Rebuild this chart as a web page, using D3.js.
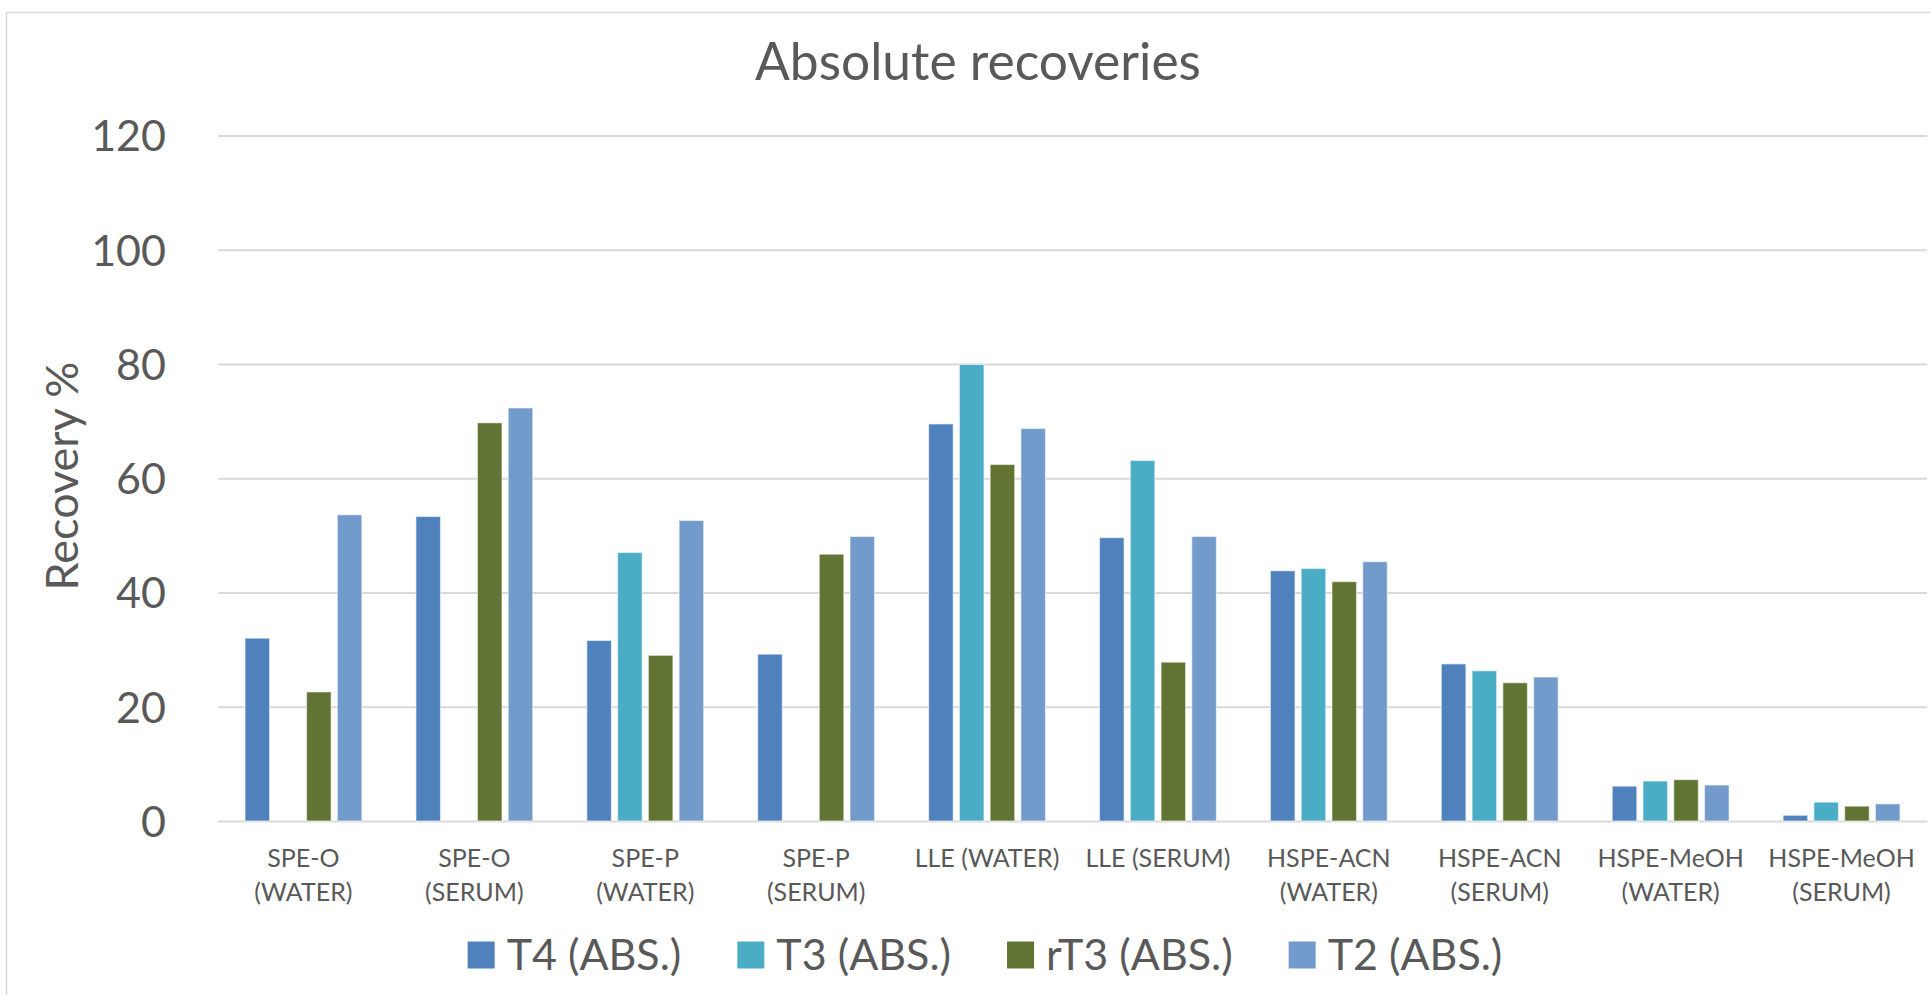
<!DOCTYPE html>
<html>
<head>
<meta charset="utf-8">
<script src="https://cdn.jsdelivr.net/npm/d3@7"></script>
<style>
  html, body { margin: 0; padding: 0; background: #fff; }
  svg { display: block; }
  text { font-family: Lato, "Open Sans", sans-serif; fill: #595959; }
</style>
</head>
<body>
<svg id="chart" width="1930" height="995"></svg>
<script>
// ---- data ----
const categories = ["SPE-O (WATER)", "SPE-O (SERUM)", "SPE-P (WATER)", "SPE-P (SERUM)", "LLE (WATER)",
                    "LLE (SERUM)", "HSPE-ACN (WATER)", "HSPE-ACN (SERUM)", "HSPE-MeOH (WATER)", "HSPE-MeOH (SERUM)"];
const seriesNames = ["T4 (ABS.)", "T3 (ABS.)", "rT3 (ABS.)", "T2 (ABS.)"];
const t4Values  = [32.0, 53.3, 31.6, 29.2, 69.5, 49.6, 43.8, 27.5, 6.1, 1.0];
const t3Values  = [null, null, 47.0, null, 79.9, 63.1, 44.2, 26.3, 7.0, 3.3];
const rt3Values = [22.6, 69.7, 29.0, 46.7, 62.4, 27.8, 41.9, 24.2, 7.25, 2.6];
const t2Values  = [53.6, 72.3, 52.6, 49.8, 68.7, 49.8, 45.4, 25.2, 6.3, 3.0];
const yTicks = [0, 20, 40, 60, 80, 100, 120];
const titleText = "Absolute recoveries";
const yTitle = "Recovery %";
const colors = ["#4F81BD", "#4BACC6", "#627433", "#729ACA"];

const seriesValues = [t4Values, t3Values, rt3Values, t2Values];
const rows = categories.map((c, i) => ({
  cat: c,
  vals: seriesNames.map((s, k) => ({ s, k, v: seriesValues[k][i] }))
}));

// ---- layout ----
const svg = d3.select("#chart");
const plot = { left: 218, right: 1927, top: 135.4, bottom: 821 };

// chart border
svg.append("rect").attr("x", 6.5).attr("y", 12.5).attr("width", 1960).attr("height", 1000)
  .attr("fill", "none").attr("stroke", "#D9D9D9").attr("stroke-width", 1.5);

const x0 = d3.scaleBand().domain(categories).range([plot.left, plot.right])
  .paddingInner(0.316).paddingOuter(0.158);
const x1 = d3.scaleBand().domain(seriesNames).range([0, x0.bandwidth()]).paddingInner(0.2).paddingOuter(0);
const y = d3.scaleLinear().domain([0, 120]).range([plot.bottom, plot.top]);

// gridlines
const grid = svg.append("g").attr("transform", `translate(${plot.left},0)`)
  .call(d3.axisLeft(y).tickValues(yTicks).tickSize(-(plot.right - plot.left)).tickFormat(""));
grid.select(".domain").remove();
grid.selectAll("line").attr("stroke", "#D9D9D9").attr("stroke-width", 2);

// y tick labels
const yAxis = svg.append("g").attr("transform", `translate(166,0)`)
  .call(d3.axisLeft(y).tickValues(yTicks).tickSize(0).tickPadding(0));
yAxis.select(".domain").remove();
yAxis.selectAll("text").attr("font-size", 43).attr("font-family", "Lato").attr("fill", "#595959")
  .attr("dy", "0.36em");

// bars
const groups = svg.append("g").selectAll("g").data(rows).join("g")
  .attr("transform", d => `translate(${x0(d.cat)},0)`);
groups.selectAll("rect").data(d => d.vals.filter(v => v.v != null)).join("rect")
  .attr("x", d => x1(d.s))
  .attr("width", x1.bandwidth())
  .attr("y", d => y(d.v))
  .attr("height", d => y(0) - y(d.v))
  .attr("fill", d => colors[d.k])
  .attr("stroke", "rgba(255,255,255,0.55)")
  .attr("stroke-width", 1.2);

// x axis labels (wrapped)
const xLab = svg.append("g");
categories.forEach(c => {
  const cx = x0(c) + x0.bandwidth() / 2;
  const t = xLab.append("text").attr("text-anchor", "middle").attr("font-size", 25)
    .attr("x", cx).attr("y", 867).text(c);
  if (t.node().getComputedTextLength() > 155) {
    const idx = c.lastIndexOf(" ");
    t.text(null);
    t.append("tspan").attr("x", cx).attr("y", 867).text(c.slice(0, idx));
    t.append("tspan").attr("x", cx).attr("y", 901).text(c.slice(idx + 1));
  }
});

// title
svg.append("text").attr("x", 978).attr("y", 80).attr("text-anchor", "middle")
  .attr("font-size", 51.5).text(titleText);

// y axis title
svg.append("text").attr("transform", "translate(78,476) rotate(-90)")
  .attr("text-anchor", "middle").attr("font-size", 45).text(yTitle);

// legend
const legend = svg.append("g");
let lx = 0;
seriesNames.forEach((s, k) => {
  const g = legend.append("g");
  g.append("rect").attr("x", 0).attr("y", -13.5).attr("width", 27).attr("height", 27).attr("fill", colors[k]);
  const t = g.append("text").attr("x", 39).attr("y", 0).attr("dy", "0.36em").attr("font-size", 43).text(s);
  const w = 39 + t.node().getComputedTextLength();
  g.attr("transform", `translate(${lx},955)`);
  lx += w + 56;
});
const totalW = lx - 56;
legend.attr("transform", `translate(${985 - totalW / 2},0)`);
</script>
</body>
</html>
